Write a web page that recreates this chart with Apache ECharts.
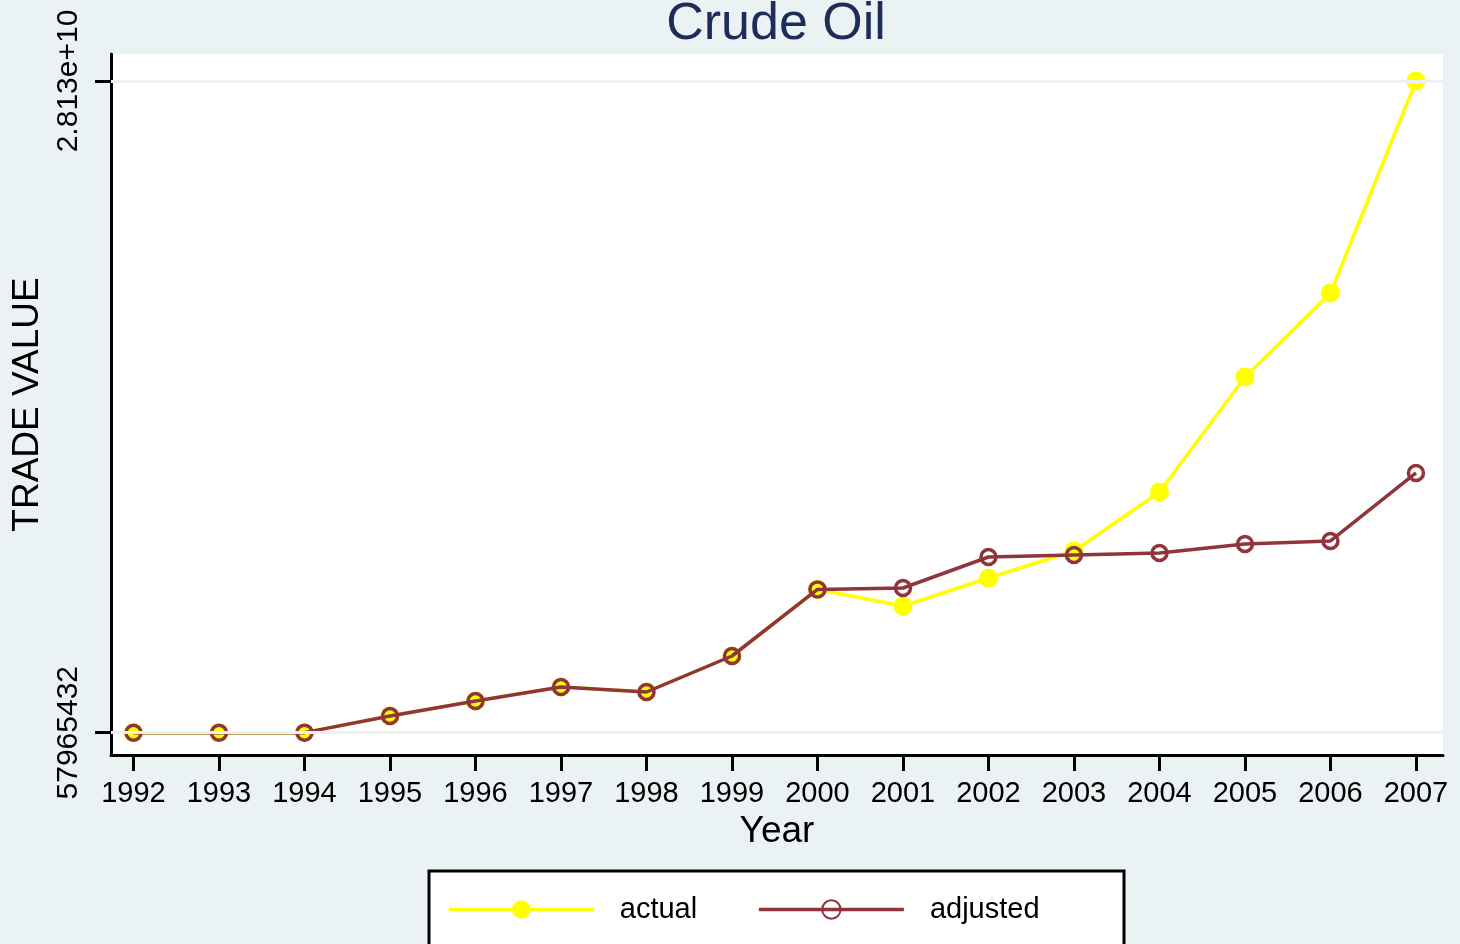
<!DOCTYPE html>
<html>
<head>
<meta charset="utf-8">
<script src="https://cdn.jsdelivr.net/npm/echarts@6/dist/echarts.min.js"></script>
<style>
html,body{margin:0;padding:0;background:#EAF2F3;}
#chart{width:1460px;height:944px;}
</style>
</head>
<body>
<div id="chart"></div>
<script>
const years = [1992,1993,1994,1995,1996,1997,1998,1999,2000,2001,2002,2003,2004,2005,2006,2007];
const actual = [57965432,57965432,60000000,777000000,1423000000,2027000000,1811000000,3362000000,6230000000,5516000000,6722000000,7885000000,10426000000,15380000000,18998000000,28130000000];
const adjusted = [57965432,57965432,60000000,777000000,1423000000,2027000000,1811000000,3362000000,6230000000,6291000000,7626000000,7712000000,7799000000,8186000000,8316000000,11245000000];
const yTickValues = [57965432, 28130000000];
const yTickLabels = ['57965432', '2.813e+10'];

const FONT = 'Liberation Sans, Arial, sans-serif';
const chart = echarts.init(document.getElementById('chart'));
const option = {
  backgroundColor: '#EAF2F3',
  animation: false,
  title: {
    text: 'Crude Oil',
    left: 771, top: -6, textAlign: 'center',
    textStyle: {fontFamily: FONT, fontSize: 52, fontWeight: 'normal', color: '#1d2c58'}
  },
  grid: {left: 111, top: 54, right: 17, bottom: 189, show: true, backgroundColor: '#ffffff', borderWidth: 0, containLabel: false},
  xAxis: {
    type: 'value', min: 1991.737, max: 2007.316,
    name: 'Year', nameLocation: 'middle', nameGap: 56,
    nameTextStyle: {fontFamily: FONT, fontSize: 37, color: '#000'},
    axisLine: {show: true, onZero: false, lineStyle: {color: '#000', width: 3}},
    axisTick: {show: true, length: 16, lineStyle: {color: '#000', width: 3}, customValues: years},
    axisLabel: {margin: 24, fontFamily: FONT, fontSize: 29, color: '#000', customValues: years, formatter: v => String(Math.round(v))},
    splitLine: {show: false}
  },
  yAxis: {
    type: 'value', min: -902600000, max: 29293000000,
    name: 'TRADE VALUE', nameLocation: 'middle', nameGap: 62,
    nameTextStyle: {fontFamily: FONT, fontSize: 37, color: '#000'},
    axisLine: {show: true, onZero: false, lineStyle: {color: '#000', width: 3}},
    axisTick: {show: true, length: 16, lineStyle: {color: '#000', width: 3}, customValues: yTickValues},
    axisLabel: {rotate: 90, margin: 27, fontFamily: FONT, fontSize: 30, color: '#000', customValues: yTickValues,
      formatter: v => { const i = yTickValues.findIndex(t => Math.abs(t - v) < 1e6); return i >= 0 ? yTickLabels[i] : ''; }},
    splitLine: {show: false}
  },
  graphic: [{
    type: 'rect', z: 0,
    shape: {x: 429, y: 871, width: 695, height: 120},
    style: {fill: '#ffffff', stroke: '#000000', lineWidth: 3}
  }],
  legend: {
    left: 447, top: 895, padding: 0, itemWidth: 145, itemHeight: 23, itemGap: 60, z: 10,
    lineStyle: {width: 3.5},
    textStyle: {fontFamily: FONT, fontSize: 29, color: '#000', padding: [0, 0, 0, 21]},
    data: ['actual', 'adjusted']
  },
  series: [
    {
      type: 'line', name: 'grid', z: 1, data: [], silent: true,
      markLine: {
        silent: true, symbol: ['none', 'none'], label: {show: false},
        lineStyle: {color: '#EAF2F3', width: 3, type: 'solid'},
        data: yTickValues.map(v => ({yAxis: v}))
      }
    },
    {
      type: 'line', name: 'actual', z: 3,
      data: years.map((y, i) => [y, actual[i]]),
      symbol: 'circle', symbolSize: 19,
      lineStyle: {color: '#FFFF00', width: 3.5},
      itemStyle: {color: '#FFFF00', borderWidth: 0}
    },
    {
      type: 'line', name: 'adjusted', z: 4,
      data: years.map((y, i) => [y, adjusted[i]]),
      symbol: 'circle', symbolSize: 15,
      lineStyle: {color: '#90353B', width: 3.5},
      itemStyle: {color: 'rgba(255,255,255,0)', borderColor: '#90353B', borderWidth: 3.5}
    }
  ]
};
chart.setOption(option);
</script>
</body>
</html>
